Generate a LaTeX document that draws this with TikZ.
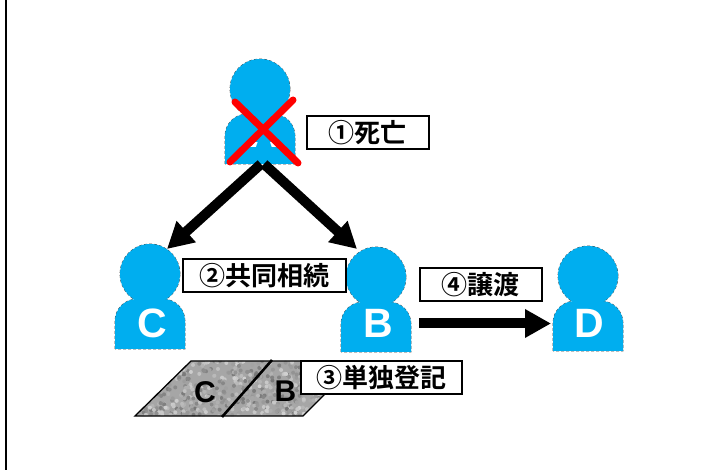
\documentclass[tikz,border=0pt]{standalone}
\usepackage{fontspec}
\setmainfont{Liberation Sans}
\newfontfamily\jpfont{Noto Sans CJK JP}[BoldFont={Noto Sans CJK JP Bold}]
\usetikzlibrary{arrows.meta}
\definecolor{personblue}{HTML}{00AEEF}
\tikzset{
    labelbox/.style={draw=black,line width=2pt,fill=white,inner sep=0pt,minimum height=33pt,font=\jpfont\bfseries\fontsize{26}{26}\selectfont},
    letter/.style={text=white,inner sep=0pt,font=\bfseries\fontsize{41}{41}\selectfont},
    deedletter/.style={text=black,inner sep=0pt,font=\bfseries\fontsize{30}{30}\selectfont},
    bigarrow/.style={line width=10pt,-{Triangle[length=26pt,width=27pt]}}
}
\begin{document}
\begin{tikzpicture}[x=1pt,y=-1pt]
    \useasboundingbox (0,0) rectangle (726,470);
    \coordinate (edgeTop) at (6,0); \coordinate (edgeBottom) at (6,470);
    \draw[line width=2.4pt] (edgeTop)--(edgeBottom);

    % Persons: head + body
    \foreach \x/\y in {260/89,150/274,376/277,588/276}{
        \draw[black!75,line width=0.7pt,dash pattern=on 3pt off 2pt] (\x,\y) circle (30pt);
        \draw[black!75,line width=0.7pt,dash pattern=on 3pt off 2pt] (\x-35,\y+75)--(\x-35,\y+47) arc (180:90:22pt)--(\x+13,\y+25) arc (90:0:22pt)--(\x+35,\y+75)--cycle;
        \fill[personblue] (\x,\y) circle (30pt);
        \fill[personblue] (\x-35,\y+75)--(\x-35,\y+47) arc (180:90:22pt)--(\x+13,\y+25) arc (90:0:22pt)--(\x+35,\y+75)--cycle;
    }
    \node[letter] (C) at (152,323) {C};
    \node[letter] (B) at (378,323) {B};
    \node[letter] (D) at (589,323) {D};

    % A under the red cross
    \begin{scope}
        \clip (245,143) rectangle (280,152);
        \node[letter] (A) at (264,133) {A};
    \end{scope}
    \coordinate (x1) at (235,102); \coordinate (x2) at (298,163);
    \coordinate (x3) at (293,100); \coordinate (x4) at (230,162);
    \draw[red,line width=7pt,line cap=round] (x1)--(x2);
    \draw[red,line width=7pt,line cap=round] (x3)--(x4);

    % Arrows
    \coordinate (aFootL) at (261,164); \coordinate (aFootR) at (264,164);
    \coordinate (cTop) at (167,249); \coordinate (bTop) at (357,249);
    \coordinate (bSide) at (419,323.5); \coordinate (dSide) at (551,323.5);
    \draw[bigarrow] (aFootL)--(cTop);
    \draw[bigarrow] (aFootR)--(bTop);
    \draw[bigarrow] (bSide)--(dSide);

    % Deed
    \pgfmathsetseed{4711}
    \begin{scope}
        \clip (135,416)--(191,361)--(358,361)--(303,416)--cycle;
        \fill[black!35] (130,355) rectangle (360,420);
        \foreach \i in {1,...,700}{
            \pgfmathsetmacro\px{135+rnd*223}
            \pgfmathsetmacro\py{361+rnd*55}
            \pgfmathsetmacro\g{18+rnd*35}
            \fill[black!\g] (\px,\py) circle (2pt);
        }
    \end{scope}
    \coordinate (d1) at (135,416); \coordinate (d2) at (191,361);
    \coordinate (d3) at (358,361); \coordinate (d4) at (303,416);
    \coordinate (s1) at (272,360); \coordinate (s2) at (222,417);
    \draw[line width=1.3pt] (d1)--(d2)--(d3)--(d4)--cycle;
    \draw[line width=2.6pt] (s1)--(s2);
    \node[deedletter] (deedC) at (205,392) {C};
    \node[deedletter] (deedB) at (285.5,391) {B};

    % Labels
    \node[labelbox,minimum width=122pt] (death) at (367.5,133) {①死亡};
    \node[labelbox,minimum width=163pt] (inherit) at (264,276) {②共同相続};
    \node[labelbox,minimum width=161pt] (register) at (381,378) {③単独登記};
    \node[labelbox,minimum width=122pt] (transfer) at (480.5,285) {④譲渡};
\end{tikzpicture}
\end{document}
